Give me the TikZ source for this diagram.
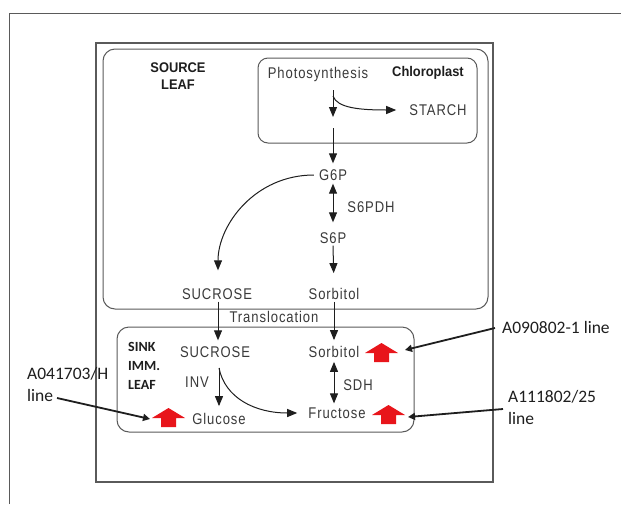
\documentclass[tikz,border=0pt]{standalone}
\usepackage{fontspec}
\setmainfont{Liberation Sans}
\newfontfamily\lblfont[LetterSpace=6,FakeStretch=0.84]{Liberation Sans}
\newfontfamily\hdfont[FakeStretch=0.92]{Liberation Sans}
\newfontfamily\calfont{Carlito}
\usetikzlibrary{arrows.meta,calc}
\definecolor{txtgray}{HTML}{3A3A3A}
\definecolor{boxgray}{HTML}{5A5A5A}
\definecolor{arrred}{HTML}{E8151B}
\definecolor{ink}{HTML}{1E1E1E}
\begin{document}
\begin{tikzpicture}[x=1pt,y=-1pt,
  lbl/.style={font=\lblfont\fontsize{15.5}{18}\selectfont, text=txtgray, inner sep=2pt},
  boldlbl/.style={font=\hdfont\bfseries\fontsize{14}{17}\selectfont, text=ink, align=center, inner sep=0pt},
  note/.style={font=\calfont\fontsize{17.5}{22}\selectfont, text=ink, align=left, anchor=west, inner sep=0pt},
  sinklbl/.style={font=\calfont\bfseries\fontsize{14}{19}\selectfont, text=ink, align=left, anchor=west, inner sep=0pt},
  flow/.style={draw=ink, line width=1pt, -{Triangle[length=10pt,width=8pt]}},
  both/.style={draw=ink, line width=1pt, {Triangle[length=10pt,width=8pt]}-{Triangle[length=10pt,width=8pt]}},
  pointer/.style={draw=ink, line width=1.8pt, -{Triangle[length=7pt,width=7pt]}},
  roundbox/.style={draw=boxgray, line width=1pt, rounded corners=12pt},
  redup/.pic={\fill[arrred] (0,0) -- (16.5,10) -- (7.5,10) -- (7.5,19) -- (-7.5,19) -- (-7.5,10) -- (-16.5,10) -- cycle;}
]
\useasboundingbox (0,0) rectangle (621,504);
\fill[white] (0,0) rectangle (621,504);

% frames
\draw[boxgray, line width=1pt] (9,504) -- (9,13) -- (621,13);
\draw[boxgray, line width=1.3pt] (96,43) rectangle (493,482);
\draw[roundbox] (103,49) rectangle (488,309);
\draw[roundbox, rounded corners=10pt] (258,58) rectangle (477,143);
\draw[roundbox] (117,327) rectangle (414,432);

% source leaf labels
\node[boldlbl] (src) at (178,76) {SOURCE\\LEAF};
\node[lbl] (photo) at (318,74) {Photosynthesis};
\node[boldlbl] (chloro) at (428,73) {Chloroplast};
\node[lbl] (starch) at (438,110) {STARCH};
\node[lbl] (g6p) at (333,175) {G6P};
\node[lbl] (s6pdh) at (371,207) {S6PDH};
\node[lbl] (s6p) at (333,238) {S6P};
\node[lbl] (sucS) at (217,294) {SUCROSE};
\node[lbl] (sorS) at (334,294) {Sorbitol};
\node[lbl] (transl) at (274,317) {Translocation};

% sink labels
\node[sinklbl] (sink) at (128,366) {SINK\\IMM.\\LEAF};
\node[lbl] (sucK) at (215,352) {SUCROSE};
\node[lbl] (sorK) at (334,352) {Sorbitol};
\node[lbl] (inv) at (197,382) {INV};
\node[lbl] (sdh) at (358,385) {SDH};
\node[lbl] (glu) at (219,419) {Glucose};
\node[lbl] (fru) at (337,413) {Fructose};

% annotations
\node[note] (lab1) at (502,327) {A090802-1 line};
\node[note] (lab2) at (508,407) {A111802/25\\line};
\node[note] (lab3) at (27,384) {A041703/H\\line};

% red arrows
\pic at (168.5,408) {redup};
\pic at (381.5,343) {redup};
\pic at (388.5,405) {redup};

% coordinates
\coordinate (pA) at (333,90);
\coordinate (pB) at (333,117);
\coordinate (pC) at (333,128);
\coordinate (pS) at (333,96);
\coordinate (invtop) at (219,368);
\coordinate (q1) at (495,328);
\coordinate (t1) at (405,350);
\coordinate (q2) at (503,409);
\coordinate (t2) at (408,417);
\coordinate (q3) at (57,398);
\coordinate (t3) at (150,419);

% connectors
\draw[flow] (pA) -- (pB);
\draw[flow, shorten >=4pt] (pC) -- (g6p.north);
\draw[flow, shorten >=11pt] (pS) .. controls (337,108) and (360,110) .. (starch.west);
\draw[both, shorten <=1pt, shorten >=8pt] (g6p.south) -- (s6p.north);
\draw[flow, shorten >=13pt] (s6p.south) -- (sorS.north);
\draw[flow, shorten <=3pt, shorten >=16pt] (g6p.west) .. controls (255,175) and (218,225) .. (sucS.north -| 218,0);
\draw[flow, shorten <=0pt, shorten >=4pt] (sucS.south -| 218,0) -- (sucK.north -| 218,0);
\draw[flow, shorten <=0pt, shorten >=4pt] (sorS.south) -- (sorK.north);
\draw[flow, shorten >=5pt] (invtop) -- (invtop |- glu.north);
\draw[flow, shorten >=9pt] (invtop) .. controls (225,398) and (255,413) .. (fru.west);
\draw[both, shorten <=2pt, shorten >=2pt] (sorK.south) -- (sorK.south |- fru.north);

\draw[pointer] (q1) -- (t1);
\draw[pointer] (q2) -- (t2);
\draw[pointer] (q3) -- (t3);
\end{tikzpicture}
\end{document}
